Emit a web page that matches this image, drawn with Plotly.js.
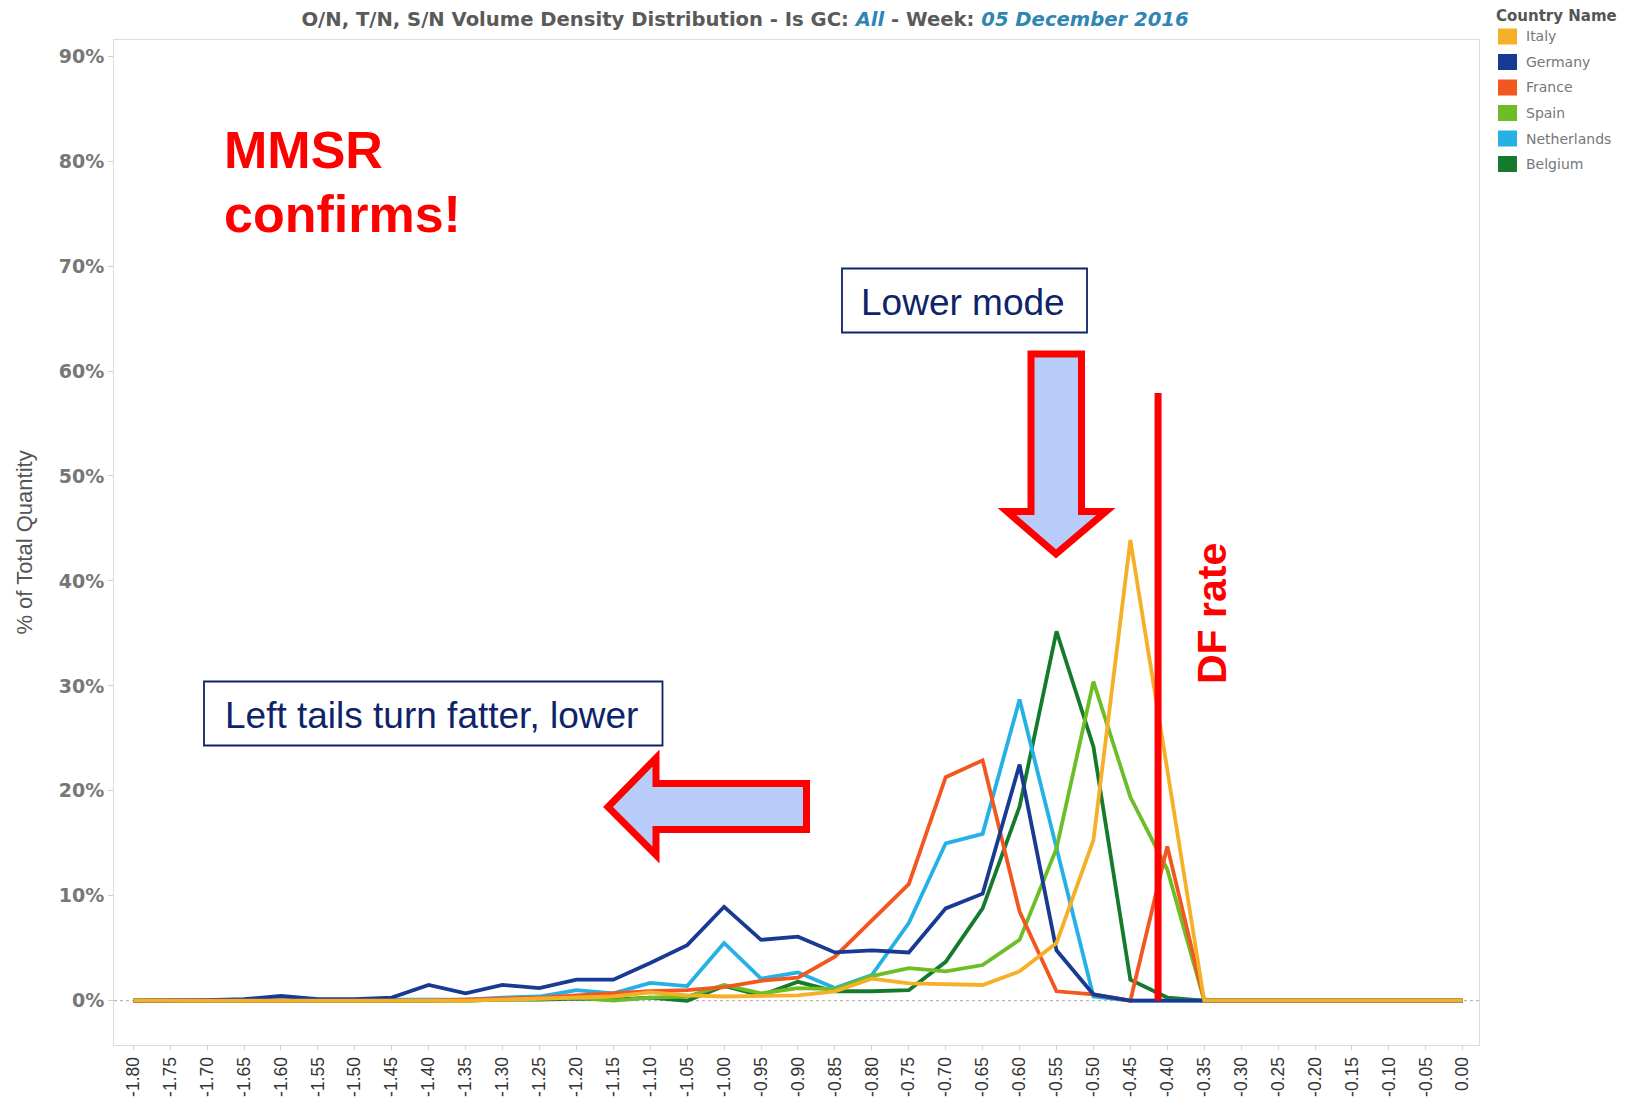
<!DOCTYPE html>
<html>
<head>
<meta charset="utf-8">
<script src="https://cdn.plot.ly/plotly-3.0.1.min.js"></script>
<style>
html,body{margin:0;padding:0;background:#ffffff;}
#chart{width:1631px;height:1098px;}
</style>
</head>
<body>
<div id="chart"></div>
<script>
// ---- Data (rate buckets, % of total quantity) ----
const rates = [-1.80,-1.75,-1.70,-1.65,-1.60,-1.55,-1.50,-1.45,-1.40,-1.35,-1.30,-1.25,-1.20,-1.15,-1.10,-1.05,-1.00,-0.95,-0.90,-0.85,-0.80,-0.75,-0.70,-0.65,-0.60,-0.55,-0.50,-0.45,-0.40,-0.35,-0.30,-0.25,-0.20,-0.15,-0.10,-0.05,0.00];
const tickLabels = ["-1.80","-1.75","-1.70","-1.65","-1.60","-1.55","-1.50","-1.45","-1.40","-1.35","-1.30","-1.25","-1.20","-1.15","-1.10","-1.05","-1.00","-0.95","-0.90","-0.85","-0.80","-0.75","-0.70","-0.65","-0.60","-0.55","-0.50","-0.45","-0.40","-0.35","-0.30","-0.25","-0.20","-0.15","-0.10","-0.05","0.00"];

const italy       = [0,0,0,0,0,0,0,0,0,0, 0.1,0.2,0.3,0.4,0.8,0.5,0.4,0.45,0.5,0.9,2.1,1.65,1.6,1.5,2.8,5.5,15.3,43.9,22.0,0, 0,0,0,0,0,0,0];
const germany     = [0,0,0.05,0.15,0.45,0.15,0.15,0.3,1.5,0.7, 1.5,1.2,2.0,2.0,3.6,5.3,8.95,5.8,6.1,4.6,4.8,4.6,8.8,10.2,22.5,4.8,0.6,0,0,0, 0,0,0,0,0,0,0];
const france      = [0,0,0,0,0,0,0,0,0,0.1, 0.2,0.3,0.5,0.7,0.9,1.0,1.3,1.9,2.2,4.2,7.7,11.1,21.3,22.9,8.5,0.9,0.6,0,14.7,0, 0,0,0,0,0,0,0];
const spain       = [0,0,0,0,0,0,0,0,0,0, 0.1,0.2,0.3,0,0.3,0.4,1.5,0.7,1.2,1.1,2.35,3.1,2.8,3.4,5.8,14.5,30.4,19.4,12.5,0, 0,0,0,0,0,0,0];
const netherlands = [0,0,0,0,0,0,0,0.1,0.1,0.1, 0.3,0.4,1.0,0.7,1.7,1.4,5.5,2.1,2.7,1.2,2.45,7.4,15.0,15.9,28.7,14.5,0.4,0,0,0, 0,0,0,0,0,0,0];
const belgium     = [0,0,0,0,0,0,0,0,0,0, 0.1,0.1,0.2,0.1,0.3,0,1.4,0.5,1.8,0.9,0.9,1.0,3.7,8.8,18.5,35.2,24.2,2.0,0.3,0, 0,0,0,0,0,0,0];

const countries = ["Italy","Germany","France","Spain","Netherlands","Belgium"];
const countryValues = [italy, germany, france, spain, netherlands, belgium];
const lineColors = ["#F5B027","#183A93","#F2571F","#6DBE26","#25B0E6","#167A2C"];
const yTicks = [0,10,20,30,40,50,60,70,80,90];
const yTickLabels = ["0%","10%","20%","30%","40%","50%","60%","70%","80%","90%"];
const dfLineX = -0.4125;   // position of the drawn DF-rate marker
const dfLineTop = 57.9;

// ---- Layout geometry helpers (pixel -> paper) ----
const L = 114, T = 40, W = 1365, H = 1005;
const px = x => (x - L) / W;
const py = y => 1 - (y - T) / H;

// Draw order: Italy last (on top)
const traces = [];
for (let k = countries.length - 1; k >= 0; k--) {
  traces.push({
    type: 'scatter', mode: 'lines', name: countries[k],
    x: rates, y: countryValues[k],
    line: {color: lineColors[k], width: 3.8},
    showlegend: false, hoverinfo: 'skip'
  });
}

const navy = '#0E2468';
const red = '#FF0000';
const arrowFill = '#B8CCF9';

const shapes = [
  {type:'line', xref:'paper', yref:'y', x0:0, x1:1, y0:0, y1:0, layer:'below',
   line:{color:'#A8A8A8', width:1, dash:'dot'}},
  {type:'line', xref:'x', yref:'y', x0:dfLineX, x1:dfLineX, y0:0, y1:dfLineTop,
   line:{color:red, width:7}},
  {type:'rect', xref:'paper', yref:'paper', x0:px(842), x1:px(1087), y0:py(268.5), y1:py(332.5),
   line:{color:navy, width:1.8}, fillcolor:'rgba(255,255,255,0)'},
  {type:'rect', xref:'paper', yref:'paper', x0:px(204), x1:px(662.5), y0:py(681.5), y1:py(745.5),
   line:{color:navy, width:1.8}, fillcolor:'rgba(255,255,255,0)'},
  {type:'path', xref:'paper', yref:'paper',
   path: 'M'+px(1031)+','+py(354)+' L'+px(1081.5)+','+py(354)+' L'+px(1081.5)+','+py(511.5)+
         ' L'+px(1106)+','+py(511.5)+' L'+px(1056)+','+py(554)+' L'+px(1007)+','+py(511.5)+
         ' L'+px(1031)+','+py(511.5)+' Z',
   fillcolor: arrowFill, line:{color:red, width:7}},
  {type:'path', xref:'paper', yref:'paper',
   path: 'M'+px(608)+','+py(807)+' L'+px(656)+','+py(758)+' L'+px(656)+','+py(783.5)+
         ' L'+px(806.5)+','+py(783.5)+' L'+px(806.5)+','+py(829.5)+' L'+px(656)+','+py(829.5)+
         ' L'+px(656)+','+py(855)+' Z',
   fillcolor: arrowFill, line:{color:red, width:7}}
];

const annotations = [
  {text:'MMSR', xref:'paper', yref:'paper', x:px(222), y:py(150), xanchor:'left', yanchor:'middle',
   showarrow:false, font:{family:'Liberation Sans, Arial, sans-serif', size:52, color:red, weight:'bold'}},
  {text:'confirms!', xref:'paper', yref:'paper', x:px(222), y:py(214), xanchor:'left', yanchor:'middle',
   showarrow:false, font:{family:'Liberation Sans, Arial, sans-serif', size:52, color:red, weight:'bold'}},
  {text:'Lower mode', xref:'paper', yref:'paper', x:px(963), y:py(302), xanchor:'center', yanchor:'middle',
   showarrow:false, font:{family:'Liberation Sans, Arial, sans-serif', size:37, color:navy}},
  {text:'Left tails turn fatter, lower', xref:'paper', yref:'paper', x:px(431), y:py(715), xanchor:'center', yanchor:'middle',
   showarrow:false, font:{family:'Liberation Sans, Arial, sans-serif', size:37, color:navy}},
  {text:'DF rate', xref:'paper', yref:'paper', x:px(1212), y:py(614), xanchor:'center', yanchor:'middle',
   textangle:-90, showarrow:false, font:{family:'Liberation Sans, Arial, sans-serif', size:41, color:red, weight:'bold'}},
  {text:'Country Name', xref:'paper', yref:'paper', x:px(1494), y:py(16), xanchor:'left', yanchor:'middle',
   showarrow:false, font:{family:'DejaVu Sans, sans-serif', size:15, color:'#555555', weight:'bold'}}
];

const legendRows = [36.5, 62, 87.5, 113, 138.5, 164];
countries.forEach((c, k) => {
  const yc = legendRows[k];
  shapes.push({type:'rect', xref:'paper', yref:'paper', x0:px(1498), x1:px(1517), y0:py(yc-8), y1:py(yc+8),
               fillcolor: lineColors[k], line:{width:0}});
  annotations.push({text:c, xref:'paper', yref:'paper', x:px(1524), y:py(yc), xanchor:'left', yanchor:'middle',
                    showarrow:false, font:{family:'DejaVu Sans, sans-serif', size:14, color:'#777777'}});
});

const layout = {
  width: 1631, height: 1098,
  margin: {l: L, r: 1631 - L - W, t: T, b: 1098 - T - H, pad: 0},
  paper_bgcolor: '#ffffff', plot_bgcolor: '#ffffff',
  showlegend: false,
  title: {
    text: 'O/N, T/N, S/N Volume Density Distribution - Is GC: <i><span style="color:#2F86B3">All</span></i> - Week: <i><span style="color:#2F86B3">05 December 2016</span></i>',
    x: 745/1631, xref: 'container', xanchor: 'center',
    y: 1 - 19/1098, yref: 'container', yanchor: 'middle',
    font: {family: 'DejaVu Sans, sans-serif', size: 19.6, color: '#5A5A5A', weight: 'bold'}
  },
  xaxis: {
    range: [-1.826, 0.022],
    tickmode: 'array', tickvals: rates, ticktext: tickLabels, tickangle: -90,
    tickfont: {family: 'Liberation Sans, Arial, sans-serif', size: 17.5, color: '#333333'},
    showgrid: false, zeroline: false,
    showline: true, linecolor: '#DCDCDC', linewidth: 1, mirror: true,
    ticks: 'outside', ticklen: 4, tickcolor: '#D0D0D0'
  },
  yaxis: {
    range: [-4.22, 91.54],
    tickmode: 'array', tickvals: yTicks, ticktext: yTickLabels,
    tickfont: {family: 'DejaVu Sans, sans-serif', size: 19, color: '#777777', weight: 'bold'},
    showgrid: false, zeroline: false,
    showline: true, linecolor: '#DCDCDC', linewidth: 1, mirror: true,
    ticks: 'outside', ticklen: 5, tickcolor: '#D0D0D0',
    title: {text: '% of Total Quantity', standoff: 20,
            font: {family: 'Liberation Sans, Arial, sans-serif', size: 22, color: '#555555'}}
  },
  shapes: shapes,
  annotations: annotations
};

Plotly.newPlot('chart', traces, layout, {displayModeBar: false, staticPlot: true});
</script>
</body>
</html>
